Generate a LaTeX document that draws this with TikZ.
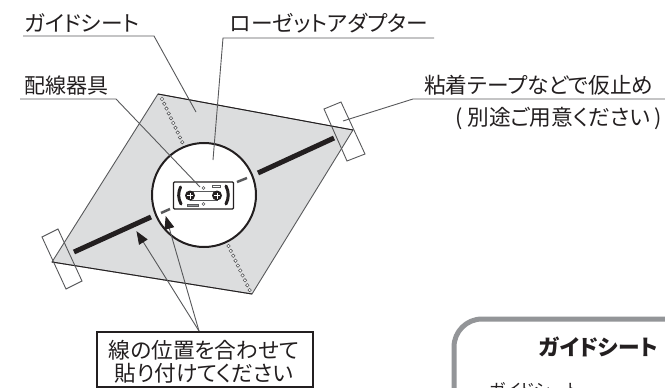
\documentclass[tikz,border=0pt]{standalone}
\usepackage{fontspec}
\setmainfont[RawFeature=+palt]{Noto Sans CJK JP}
\usetikzlibrary{arrows.meta}
\definecolor{sheetgray}{HTML}{DCDDDE}
\definecolor{leadgray}{HTML}{58595B}
\definecolor{panelgray}{HTML}{939598}
\definecolor{inkblack}{HTML}{231F20}
\tikzset{
	lead/.style={draw=leadgray, line width=0.9pt},
	callout/.style={lead, -{Triangle[length=13pt,width=10pt,fill=inkblack,color=inkblack]}, shorten >=-1pt},
	thickline/.style={draw=inkblack, line width=5pt},
	dashpart/.style={draw=leadgray, line width=2.5pt},
	holes/.style={draw=leadgray, line width=0.6pt, fill=white},
	label/.style={inner sep=0pt, text=inkblack, font=\fontsize{21.7}{24}\selectfont}
}
\begin{document}
\begin{tikzpicture}[x=1pt, y=-1pt]
	\useasboundingbox (0,0) rectangle (665,388);
	\fill[white] (0,0) rectangle (665,388);
	% sheet and tapes
	\coordinate (sheetT) at (158,94);
	\coordinate (sheetR) at (353,130);
	\coordinate (sheetB) at (252,294);
	\coordinate (sheetL) at (52,262);
	\draw[fill=sheetgray, draw=leadgray, line width=0.9pt] (sheetT) -- (sheetR) -- (sheetB) -- (sheetL) -- cycle;
	\draw[inkblack, line width=0.9pt] (sheetT) -- (sheetR);
	\draw[inkblack, line width=0.9pt] (sheetL) -- (sheetB);
	\draw[lead] (324,109) -- (341,102) -- (365,154) -- (347,161) -- cycle;
	\draw[lead] (42,237) -- (58,229) -- (82,281) -- (66,289) -- cycle;
	% dotted rows
	\foreach \i in {0,...,9}
		\draw[holes] ({162+\i*2.25},{99+\i*4.8}) circle (1.7);
	\foreach \i in {0,...,9}
		\draw[holes] ({228.5+\i*2.35},{246+\i*4.9}) circle (1.7);
	% thick line
	\draw[thickline] (258,173) -- (334,138);
	\draw[thickline] (74,252) -- (151,217);
	% adapter
	\node (adapter) [circle, draw=inkblack, fill=white, line width=2pt, minimum size=104pt, inner sep=0pt] at (204,195) {};
	\draw[dashpart] (237,182) -- (247,178);
	\draw[dashpart] (161,213) -- (170,209);
	% wiring device
	\node (device) [draw=inkblack, fill=white, line width=1.4pt, rounded corners=1pt, minimum width=60pt, minimum height=27pt, inner sep=0pt] at (203.5,195.5) {};
	\draw[inkblack, line width=3pt, line cap=round] (180.5,187) .. controls (178,193) and (178,198) .. (181,204);
	\draw[inkblack, line width=3pt, line cap=round] (226,186) .. controls (229,192) and (229,198) .. (226,204);
	\draw[leadgray, line width=0.7pt] (190,191) rectangle (217,200);
	\foreach \cx in {190,217} {
		\fill[inkblack] (\cx,195.5) circle (5);
		\draw[white, line width=0.3pt] (\cx-3,195.5) -- (\cx+3,195.5) (\cx,192.5) -- (\cx,198.5);
	}
	\draw[holes] (203.5,188) circle (1.5);
	\draw[holes] (203.5,204) circle (1.5);
	\draw[leadgray, line width=0.7pt, fill=white] (212,185) rectangle (220,187.5);
	\draw[leadgray, line width=0.7pt, fill=panelgray] (187,204) rectangle (198,206);
	% labels
	\node (guide) [label, anchor=base west] at (24,31) {ガイドシート};
	\node (rosette) [label, anchor=base west] at (230,31) {ローゼットアダプター};
	\node (wiring) [label, anchor=base west, font=\fontsize{21}{24}\selectfont] at (24,93) {配線器具};
	\node (tape) [label, anchor=base west] at (424,93) {粘着テープなどで仮止め};
	\node (note) [label, anchor=base west] at (455,125) {( 別途ご用意ください )};
	% leaders
	\coordinate (guideA) at (23,36);
	\coordinate (guideB) at (154,36);
	\coordinate (guideC) at (196,112);
	\draw[lead] (guideA) -- (guideB) -- (guideC);
	\coordinate (rosetteA) at (434,38);
	\coordinate (rosetteB) at (223,38);
	\coordinate (rosetteC) at (213,160);
	\draw[lead] (rosetteA) -- (rosetteB) -- (rosetteC);
	\coordinate (wiringA) at (20,99);
	\coordinate (wiringB) at (116,99);
	\coordinate (wiringC) at (200,187);
	\draw[lead] (wiringA) -- (wiringB) -- (wiringC);
	\coordinate (tapeA) at (665,99);
	\coordinate (tapeB) at (413,99);
	\coordinate (tapeC) at (343,121);
	\draw[lead] (tapeA) -- (tapeB) -- (tapeC);
	% call-out box
	\node (fit) [draw=inkblack, fill=white, line width=1.8pt, minimum width=216pt, minimum height=55pt, inner sep=0pt] at (205,359.5) {};
	\node (fitA) [label] at (204,350) {線の位置を合わせて};
	\node (fitB) [label] at (204,373) {貼り付けてください};
	\coordinate (fitTop) at (199,331);
	\draw[callout] (fitTop) -- (137,232);
	\draw[callout] (fitTop) -- (166,217);
	% panel
	\draw[panelgray, line width=5pt, rounded corners=28pt] (700,319) -- (454,319) -- (454,430);
	\node (panelhead) [anchor=base west, inner sep=0pt, text=inkblack, font=\bfseries\fontsize{21.7}{24}\selectfont] at (539,355) {ガイドシート};
	\node (panelbody) [anchor=base west, inner sep=0pt, text=inkblack, font=\fontsize{17}{20}\selectfont] at (489,396) {ガイドシート};
\end{tikzpicture}
\end{document}
